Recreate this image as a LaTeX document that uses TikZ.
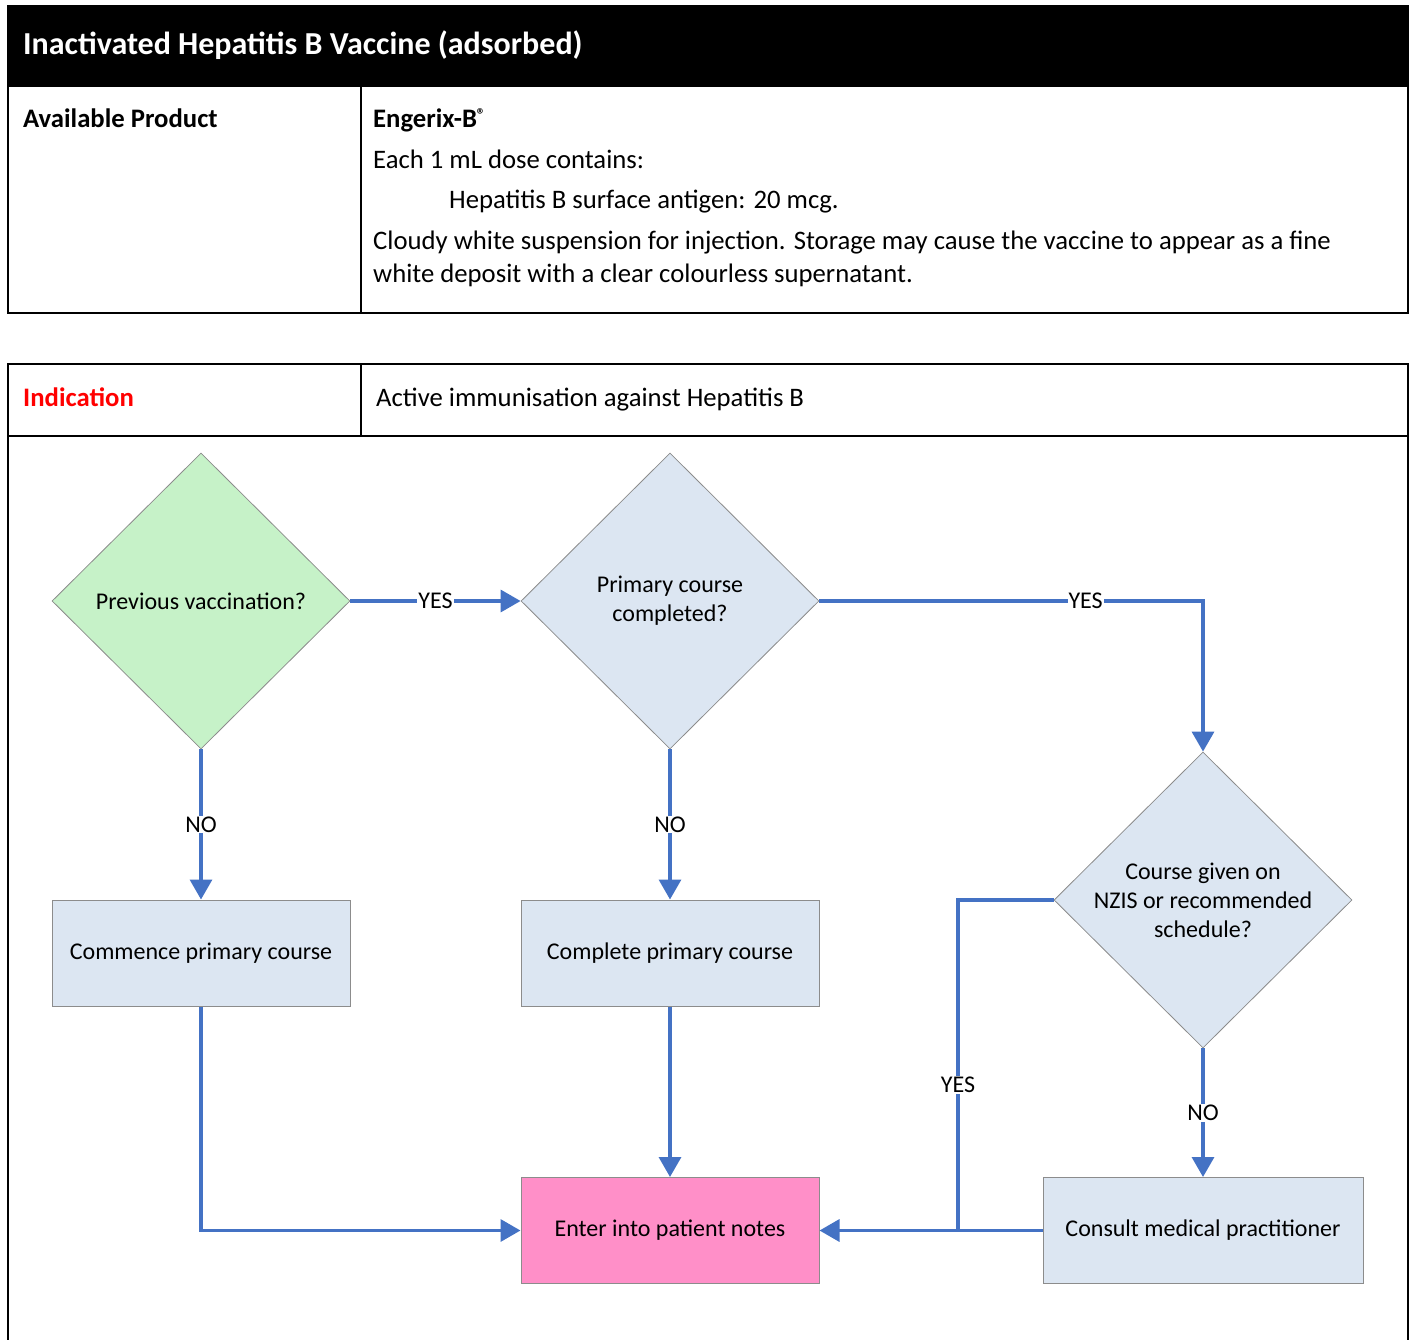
\documentclass[tikz,border=0pt]{standalone}
\usepackage{fontspec}
\setmainfont{Carlito}
\usetikzlibrary{shapes.geometric,arrows.meta}
\definecolor{flowblue}{HTML}{4472C4}
\definecolor{boxblue}{HTML}{DCE6F2}
\definecolor{qgreen}{HTML}{C6F2C8}
\definecolor{notepink}{HTML}{FF8FC8}
\definecolor{edgegray}{HTML}{8C8C8C}
\newcommand{\flowfont}{\fontsize{24}{29}\selectfont}
\newcommand{\cellfont}{\fontsize{26.7}{32}\selectfont}
\tikzset{
  question/.style={diamond,draw=edgegray,line width=0.8pt,minimum width=298pt,
    minimum height=296pt,inner sep=-4pt,align=center,font=\flowfont},
  action/.style={rectangle,draw=edgegray,line width=1pt,fill=boxblue,
    minimum width=298pt,minimum height=106pt,font=\flowfont},
  flow/.style={draw=flowblue,line width=3.4pt,-{Triangle[length=20pt,width=22pt]}},
  plain/.style={draw=flowblue,line width=3.4pt},
  answer/.style={fill=white,inner sep=1pt,font=\flowfont},
  cell/.style={anchor=base west,inner sep=0pt,font=\cellfont},
}

\begin{document}
\begin{tikzpicture}[x=1pt,y=-1pt]
  \useasboundingbox (0,0) rectangle (1414,1340);
  % product table
  \fill (8,6) rectangle (1408,87);
  \draw[line width=2pt] (8,6) rectangle (1408,313);
  \draw[line width=1.5pt] (361,87) -- (361,313);
  \node[cell,text=white,font=\fontsize{32}{36}\selectfont\bfseries] (title) at (23,55) {Inactivated Hepatitis B Vaccine (adsorbed)};
  \node[cell,font=\cellfont\bfseries] (avail) at (23,128) {Available Product};
  \node[cell,font=\cellfont\bfseries] (brand) at (373,128) {Engerix-B\raisebox{0.55ex}{\fontsize{17}{17}\selectfont\textregistered}};
  \node[cell] (dose) at (373,169) {Each 1 mL dose contains:};
  \node[cell] (antigen) at (449,209) {Hepatitis B surface antigen: 20 mcg.};
  \node[cell] (descA) at (373,250) {Cloudy white suspension for injection. Storage may cause the vaccine to appear as a fine};
  \node[cell] (descB) at (373,283) {white deposit with a clear colourless supernatant.};

  % indication table
  \draw[line width=2pt] (8,1340) -- (8,364) -- (1408,364) -- (1408,1340);
  \draw[line width=1.5pt] (8,436) -- (1408,436);
  \draw[line width=1.5pt] (361,364) -- (361,436);
  \node[cell,text=red,font=\cellfont\bfseries] (indic) at (23,406) {Indication};
  \node[cell] (active) at (376,406) {Active immunisation against Hepatitis B};

  % flowchart
  \node[question,fill=qgreen] (prev) at (201,601) {Previous vaccination?};
  \node[question,fill=boxblue] (done) at (670,601) {Primary course\\completed?};
  \node[question,fill=boxblue] (sched) at (1203,900) {Course given on\\NZIS or recommended\\schedule?};
  \node[action] (commence) at (201,953) {Commence primary course};
  \node[action] (complete) at (670,953) {Complete primary course};
  \node[action,fill=notepink] (notes) at (670,1230.5) {Enter into patient notes};
  \node[action,minimum width=320pt] (consult) at (1203,1230.5) {Consult medical practitioner};
  \coordinate (join) at (958,1230.5);

  \draw[flow] (prev) -- node[answer]{YES} (done);
  \draw[flow] (prev) -- node[answer]{NO} (commence);
  \draw[flow] (done) -- node[answer]{NO} (complete);
  \draw[flow] (done) -| node[answer,pos=0.347]{YES} (sched);
  \draw[flow] (sched) -- node[answer]{NO} (consult);
  \draw[plain] (sched) -| node[answer,pos=0.78]{YES} (join);
  \draw[plain] (consult) -- (join);
  \draw[flow] (join) -- (notes);
  \draw[flow] (commence) |- (notes);
  \draw[flow] (complete) -- (notes);
\end{tikzpicture}
\end{document}
